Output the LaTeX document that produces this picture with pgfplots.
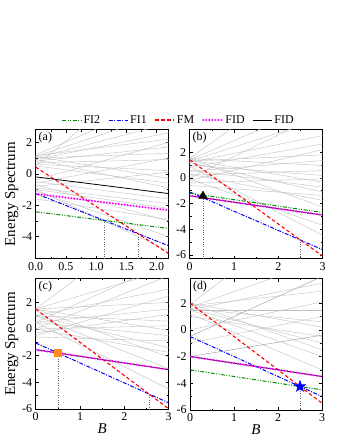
\documentclass[border=0pt]{standalone}
\usepackage{fontspec}
\setmainfont{Liberation Serif}
\usepackage{pgfplots}
\pgfplotsset{compat=1.18}

\definecolor{cfitwo}{rgb}{0,0.55,0}
\definecolor{cfione}{rgb}{0,0,1}
\definecolor{cfm}{rgb}{1,0,0}
\definecolor{cfid}{rgb}{1,0,1}
\definecolor{corange}{rgb}{1,0.55,0.1}

% filled five-pointed star
\pgfdeclareplotmark{fstar}{%
  \pgfpathmoveto{\pgfpointpolar{90}{\pgfplotmarksize}}%
  \pgfpathlineto{\pgfpointpolar{126}{0.42\pgfplotmarksize}}%
  \pgfpathlineto{\pgfpointpolar{162}{\pgfplotmarksize}}%
  \pgfpathlineto{\pgfpointpolar{198}{0.42\pgfplotmarksize}}%
  \pgfpathlineto{\pgfpointpolar{234}{\pgfplotmarksize}}%
  \pgfpathlineto{\pgfpointpolar{270}{0.42\pgfplotmarksize}}%
  \pgfpathlineto{\pgfpointpolar{306}{\pgfplotmarksize}}%
  \pgfpathlineto{\pgfpointpolar{342}{0.42\pgfplotmarksize}}%
  \pgfpathlineto{\pgfpointpolar{18}{\pgfplotmarksize}}%
  \pgfpathlineto{\pgfpointpolar{54}{0.42\pgfplotmarksize}}%
  \pgfpathclose
  \pgfusepathqfillstroke}

\pgfplotsset{
  panel/.style={
    scale only axis, width=133bp, height=129bp, anchor=south west,
    xmin=0, tick align=inside, tick pos=both,
    major tick length=3bp, minor tick length=1.8bp,
    every tick/.style={black, line width=0.5pt},
    axis line style={line width=0.8pt},
    ticklabel style={font=\fontsize{12}{12}\selectfont},
    /pgf/number format/assume math mode=true,
    label style={font=\fontsize{15}{15}\selectfont},
    xlabel shift=-4bp, ylabel shift=-3bp,
    minor x tick num=1, minor y tick num=1,
    clip=true,
  },
  grayl/.style={color=black!25, line width=0.4pt, forget plot},
  vdot/.style={color=black!60, line width=0.4pt, dotted, forget plot},
  fitwo/.style={color=cfitwo, line width=1pt,
    dash pattern=on 4pt off 1.5pt on 1pt off 1.5pt on 1pt off 1.5pt},
  fione/.style={color=cfione, line width=1pt,
    dash pattern=on 4pt off 1.5pt on 1pt off 1.5pt},
  fm/.style={color=cfm, line width=1.1pt, dash pattern=on 3.5pt off 2.5pt},
  fidm/.style={color=cfid, line width=2.3pt, line cap=round,
    dash pattern=on 0pt off 3pt},
  fidk/.style={color=black, line width=0.8pt},
}

\begin{document}
\begin{tikzpicture}
\path[use as bounding box] (0,0) rectangle (340bp,440bp);

% ---------------- (a)
\begin{axis}[panel, at={(35.7bp,181.3bp)},
  xmax=2.2, ymin=-5.4, ymax=2.8,
  xtick={0,0.5,1,1.5,2}, ytick={-4,-2,0,2},
  xticklabel style={/pgf/number format/fixed, /pgf/number format/precision=1,
    /pgf/number format/fixed zerofill},
  ylabel={Energy Spectrum},
  legend style={at={(1.075,1.075)}, anchor=center, draw=none, fill=none,
    legend columns=-1, font=\fontsize{12}{12}\selectfont,
    /tikz/every even column/.append style={column sep=6bp}},
  legend image code/.code={\draw[#1] (0bp,0bp) -- (19bp,0bp);},
]
\addplot[grayl] coordinates {(0,1.2) (2.2,4.8)};
\addplot[grayl] coordinates {(0,1.1) (2.2,3.9)};
\addplot[grayl] coordinates {(0,1.0) (2.2,3.2)};
\addplot[grayl] coordinates {(0,0.9) (2.2,2.6)};
\addplot[grayl] coordinates {(0,0.5) (2.2,7.5)};
\addplot[grayl] coordinates {(0,1.15) (2.2,2.2)};
\addplot[grayl] coordinates {(0,0.8) (2.2,1.7)};
\addplot[grayl] coordinates {(0,1.0) (2.2,1.3)};
\addplot[grayl] coordinates {(0,0.7) (2.2,0.9)};
\addplot[grayl] coordinates {(0,0.6) (2.2,0.2)};
\addplot[grayl] coordinates {(0,1.1) (2.2,-0.3)};
\addplot[grayl] coordinates {(0,0.5) (2.2,-0.6)};
\addplot[grayl] coordinates {(0,0.9) (2.2,-0.9)};
\addplot[grayl] coordinates {(0,-0.4) (2.2,2.0)};
\addplot[grayl] coordinates {(0,-0.6) (2.2,1.0)};
\addplot[grayl] coordinates {(0,-0.8) (2.2,0.1)};
\addplot[grayl] coordinates {(0,-0.5) (2.2,-1.6)};
\addplot[grayl] coordinates {(0,-0.9) (2.2,-1.9)};
\addplot[grayl] coordinates {(0,-1.0) (2.2,-2.2)};
\addplot[grayl] coordinates {(0,-0.7) (2.2,-3.0)};
\addplot[grayl] coordinates {(0,-1.1) (2.2,-4.0)};
\addplot[grayl] coordinates {(0,-1.0) (2.2,-4.9)};
\addplot[grayl] coordinates {(0,-1.6) (2.2,-2.9)};
\addplot[vdot] coordinates {(1.13,-5.4) (1.13,-2.96)};
\addplot[vdot] coordinates {(1.70,-5.4) (1.70,-3.83)};
\addplot[fitwo] coordinates {(0,-2.42) (2.2,-3.48)};
\addplot[fione] coordinates {(0,-1.26) (2.2,-4.58)};
\addplot[fm] coordinates {(0,0.42) (2.2,-5.08)};
\addplot[fidm] coordinates {(0,-1.28) (2.2,-2.32)};
\addplot[fidk] coordinates {(0,-0.2) (2.2,-1.26)};
\legend{FI2, FI1, FM, FID, FID}
\node[anchor=north west, inner sep=1.5bp, font=\fontsize{12}{12}\selectfont]
  at (rel axis cs:0.01,0.99) {(a)};
\end{axis}

% ---------------- (b)
\begin{axis}[panel, at={(189.7bp,181.3bp)},
  xmax=3, ymin=-6.3, ymax=3.75,
  xtick={0,1,2,3}, ytick={-6,-4,-2,0,2},
]
\addplot[grayl] coordinates {(0,1.5) (3,9.0)};
\addplot[grayl] coordinates {(0,1.4) (3,5.9)};
\addplot[grayl] coordinates {(0,1.3) (3,4.6)};
\addplot[grayl] coordinates {(0,0.0) (3,5.0)};
\addplot[grayl] coordinates {(0,1.2) (3,3.3)};
\addplot[grayl] coordinates {(0,0.8) (3,2.64)};
\addplot[grayl] coordinates {(0,-0.2) (3,2.2)};
\addplot[grayl] coordinates {(0,1.3) (3,1.79)};
\addplot[grayl] coordinates {(0,0.5) (3,1.35)};
\addplot[grayl] coordinates {(0,1.5) (3,0.96)};
\addplot[grayl] coordinates {(0,0.2) (3,0.57)};
\addplot[grayl] coordinates {(0,1.0) (3,0.18)};
\addplot[grayl] coordinates {(0,-0.4) (3,-0.08)};
\addplot[grayl] coordinates {(0,1.4) (3,-0.34)};
\addplot[grayl] coordinates {(0,0.6) (3,-0.73)};
\addplot[grayl] coordinates {(0,1.2) (3,-1.1)};
\addplot[grayl] coordinates {(0,-0.6) (3,-1.37)};
\addplot[grayl] coordinates {(0,0.3) (3,-1.76)};
\addplot[grayl] coordinates {(0,1.5) (3,-2.28)};
\addplot[grayl] coordinates {(0,-0.1) (3,-3.7)};
\addplot[grayl] coordinates {(0,0.9) (3,-4.48)};
\addplot[vdot] coordinates {(0.3,-6.3) (0.3,-1.55)};
\addplot[vdot] coordinates {(2.5,-6.3) (2.5,-4.85)};
\addplot[fione] coordinates {(0,-1.1) (3,-5.6)};
\addplot[fm] coordinates {(0,1.4) (3,-6.1)};
\addplot[fidk] coordinates {(0,-1.4) (3,-2.9)};
\addplot[fidm] coordinates {(0,-1.4) (3,-2.9)};
\addplot[fitwo] coordinates {(0,-1.2) (3,-2.7)};
\addplot[only marks, mark=triangle*, mark size=5pt, black] coordinates {(0.3,-1.42)};
\node[anchor=north west, inner sep=1.5bp, font=\fontsize{12}{12}\selectfont]
  at (rel axis cs:0.01,0.99) {(b)};
\end{axis}

% ---------------- (c)
\begin{axis}[panel, at={(35.7bp,30.5bp)}, height=131bp,
  xmax=3, ymin=-6.05, ymax=3.8,
  xtick={0,1,2,3}, ytick={-6,-4,-2,0,2},
  ylabel={Energy Spectrum}, xlabel={\textit{B}},
]
\addplot[grayl] coordinates {(0,1.5) (3,9.0)};
\addplot[grayl] coordinates {(0,0.5) (3,5.0)};
\addplot[grayl] coordinates {(0,1.5) (3,4.5)};
\addplot[grayl] coordinates {(0,0.0) (3,4.0)};
\addplot[grayl] coordinates {(0,1.0) (3,3.0)};
\addplot[grayl] coordinates {(0,-0.5) (3,2.5)};
\addplot[grayl] coordinates {(0,1.5) (3,2.0)};
\addplot[grayl] coordinates {(0,0.5) (3,1.5)};
\addplot[grayl] coordinates {(0,-0.3) (3,1.1)};
\addplot[grayl] coordinates {(0,1.0) (3,0.6)};
\addplot[grayl] coordinates {(0,0.0) (3,0.25)};
\addplot[grayl] coordinates {(0,1.5) (3,-0.1)};
\addplot[grayl] coordinates {(0,0.5) (3,-0.5)};
\addplot[grayl] coordinates {(0,-0.6) (3,-0.9)};
\addplot[grayl] coordinates {(0,1.0) (3,-1.4)};
\addplot[grayl] coordinates {(0,0.0) (3,-1.75)};
\addplot[grayl] coordinates {(0,1.5) (3,-2.1)};
\addplot[grayl] coordinates {(0,1.0) (3,-3.0)};
\addplot[grayl] coordinates {(0,0.5) (3,-4.5)};
\addplot[vdot] coordinates {(0.5,-6.05) (0.5,-1.8)};
\addplot[vdot] coordinates {(2.55,-6.05) (2.55,-4.875)};
\addplot[fione] coordinates {(0,-1.05) (3,-5.55)};
\addplot[fm] coordinates {(0,1.5) (3,-6.0)};
\addplot[fidk] coordinates {(0,-1.55) (3,-3.05)};
\addplot[fidm] coordinates {(0,-1.55) (3,-3.05)};
\addplot[only marks, mark=square*, mark size=3.5pt, color=corange] coordinates {(0.5,-1.8)};
\node[anchor=north west, inner sep=1.5bp, font=\fontsize{12}{12}\selectfont]
  at (rel axis cs:0.01,0.99) {(c)};
\end{axis}

% ---------------- (d)
\begin{axis}[panel, at={(190bp,29.5bp)}, height=132bp, width=132bp,
  xmax=3, ymin=-6.05, ymax=3.85,
  xtick={0,1,2,3}, ytick={-6,-4,-2,0,2},
  xlabel={\textit{B}},
]
\addplot[grayl] coordinates {(0,1.9) (3,9.4)};
\addplot[grayl] coordinates {(0,1.7) (3,5.2)};
\addplot[grayl, color=black!40] coordinates {(0,-0.5) (3,4.0)};
\addplot[grayl] coordinates {(0,1.5) (3,3.5)};
\addplot[grayl] coordinates {(0,1.8) (3,2.9)};
\addplot[grayl] coordinates {(0,0.0) (3,2.1)};
\addplot[grayl] coordinates {(0,1.5) (3,1.5)};
\addplot[grayl] coordinates {(0,-1.0) (3,1.0)};
\addplot[grayl] coordinates {(0,1.6) (3,0.6)};
\addplot[grayl] coordinates {(0,2.0) (3,0.2)};
\addplot[grayl] coordinates {(0,1.0) (3,-0.5)};
\addplot[grayl] coordinates {(0,1.6) (3,-1.0)};
\addplot[grayl] coordinates {(0,2.0) (3,-1.5)};
\addplot[grayl] coordinates {(0,1.5) (3,-2.0)};
\addplot[grayl] coordinates {(0,1.2) (3,-3.0)};
\addplot[grayl, color=black!40] coordinates {(0,-2.0) (3,-0.4)};
\addplot[vdot] coordinates {(2.5,-6.05) (2.5,-4.25)};
\addplot[fitwo] coordinates {(0,-3.0) (3,-4.5)};
\addplot[fione] coordinates {(0,-0.5) (3,-5.0)};
\addplot[fm] coordinates {(0,2.0) (3,-5.5)};
\addplot[fidk] coordinates {(0,-2.0) (3,-3.5)};
\addplot[fidm] coordinates {(0,-2.0) (3,-3.5)};
\addplot[only marks, mark=fstar, mark size=6pt, color=cfione] coordinates {(2.5,-4.25)};
\node[anchor=north west, inner sep=1.5bp, font=\fontsize{12}{12}\selectfont]
  at (rel axis cs:0.01,0.99) {(d)};
\end{axis}
\end{tikzpicture}
\end{document}
